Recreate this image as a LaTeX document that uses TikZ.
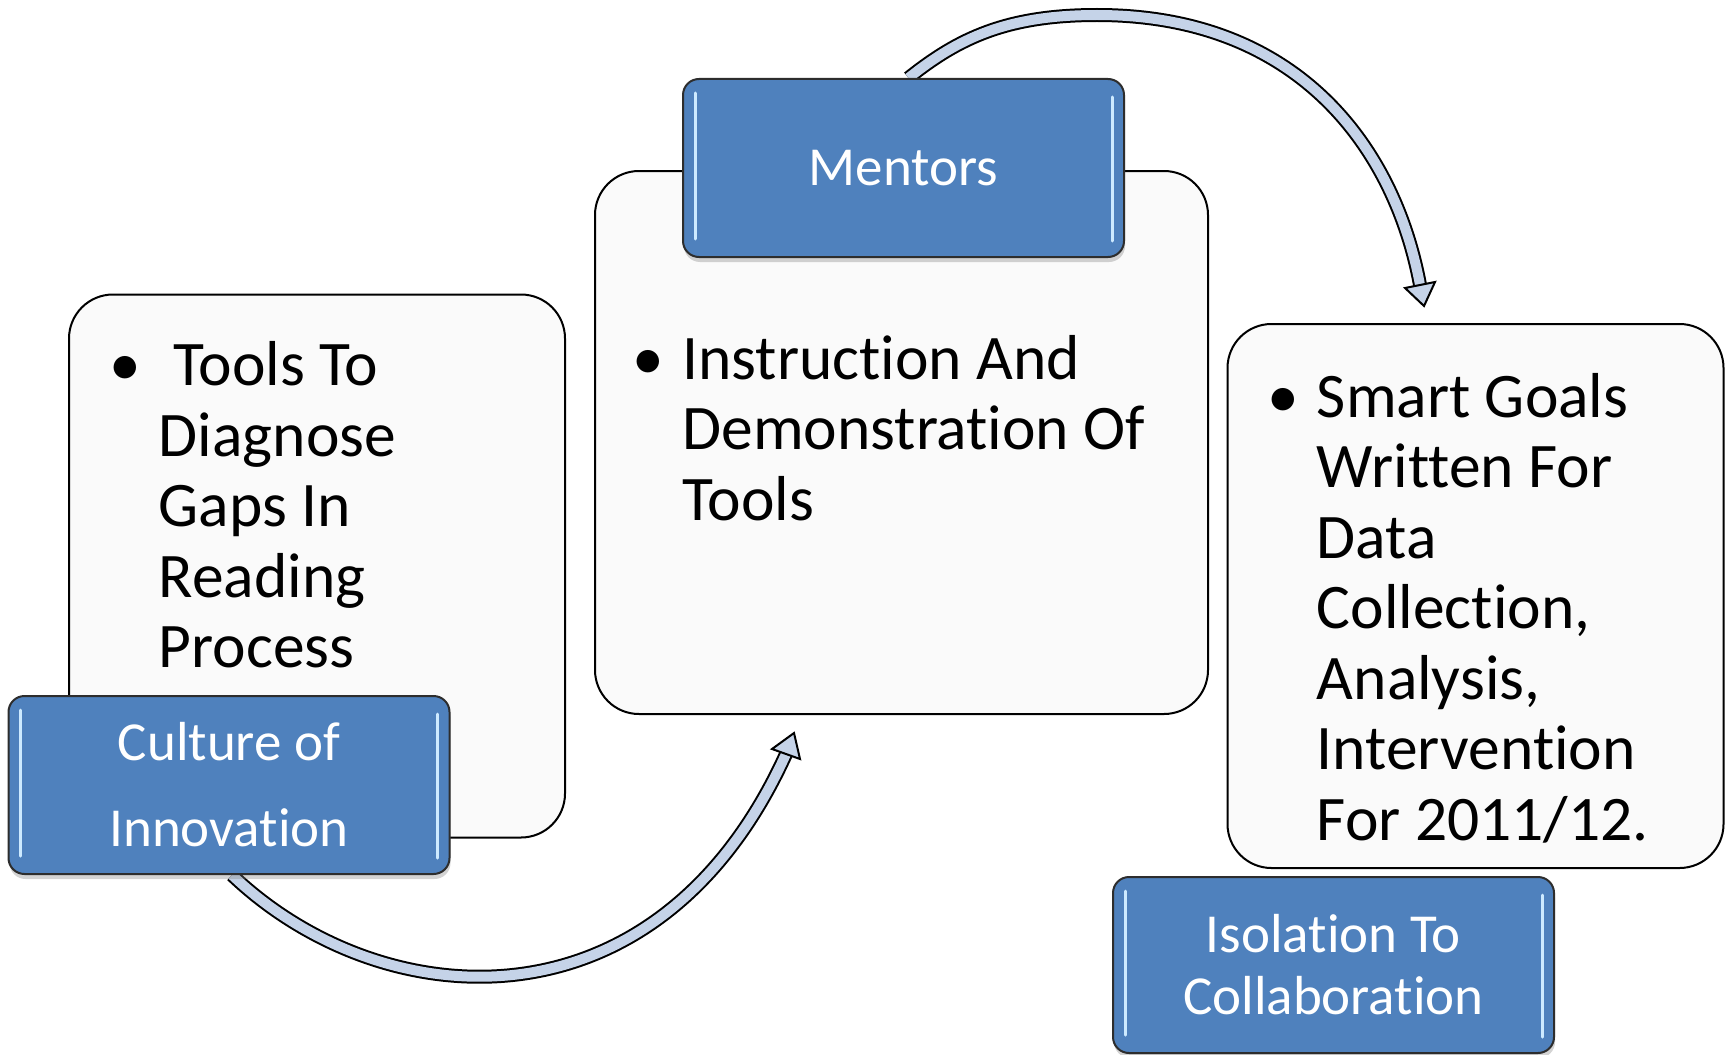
\documentclass[tikz,border=0pt]{standalone}
\definecolor{tabblue}{RGB}{79, 129, 189}
\definecolor{tabedge}{RGB}{45, 45, 45}
\definecolor{glassline}{RGB}{205, 234, 255}
\definecolor{cardfill}{RGB}{250, 250, 250}
\definecolor{cyclefill}{RGB}{197, 211, 232}
\usepackage{fontspec}
\setmainfont{Carlito}[Ligatures={CommonOff, ContextualOff}]
\usepackage{tikz}
\usetikzlibrary{shadows, backgrounds}

\begin{document}
\begin{tikzpicture}[x=0.5pt, y=-0.5pt,
  card/.style={draw=black, line width=1pt, fill=cardfill, rounded corners=22pt,
    minimum width=248pt, minimum height=271.5pt, inner sep=0pt},
  cardtext/.style={anchor=base west, inner sep=0pt, text width=#1, align=flush left,
    font=\fontsize{31.75pt}{35.25pt}\selectfont},
  tabbox/.style={draw=tabedge, line width=1pt, fill=tabblue, rounded corners=8pt,
    minimum width=220.5pt, minimum height=89pt, inner sep=0pt, align=center,
    text=white, font=\fontsize{27.5pt}{31pt}\selectfont,
    drop shadow={shadow xshift=0.5pt, shadow yshift=-2.5pt, opacity=0.35},
    path picture={
      \draw[glassline, line width=1.5pt, line cap=round]
        ([xshift=6pt, yshift=-7pt]path picture bounding box.north west) --
        ([xshift=6pt, yshift=9pt]path picture bounding box.south west);
      \draw[glassline, line width=1.5pt, line cap=round]
        ([xshift=-6pt, yshift=-9pt]path picture bounding box.north east) --
        ([xshift=-6pt, yshift=8pt]path picture bounding box.south east);
    }},
  cyclearrow/.style={draw=cyclefill, line width=5pt,
    preaction={draw=black, line width=7pt}},
  cyclehead/.style={draw=black, line width=1pt, fill=cyclefill, line join=miter},
]
  \useasboundingbox (0, 0) rectangle (1727, 1054);

  \node[card] (diag) at (317, 566) {};
  \node[card, minimum width=306.5pt] (demo) at (901.5, 442.5) {};
  \node[card, minimum height=272pt] (goals) at (1475.5, 596) {};

  \node[cardtext=200pt, xshift=45.25pt, yshift=-46pt] (diagtxt) at (diag.north west) {
    \llap{\textbullet\hspace{9pt}}\ Tools To\\
    Diagnose\\
    Gaps In\\
    Reading\\
    Process
  };
  \node[cardtext=270pt, xshift=44pt, yshift=-104.5pt] (demotxt) at (demo.north west) {
    \llap{\textbullet\hspace{9pt}}Instruction And\\
    Demonstration Of\\
    Tools
  };
  \node[cardtext=220pt, xshift=45pt, yshift=-47pt] (goalstxt) at (goals.north west) {
    \llap{\textbullet\hspace{9pt}}Smart Goals\\
    Written For\\
    Data\\
    Collection,\\
    Analysis,\\
    Intervention\\
    For 2011/12.
  };

  \node[tabbox] (mentors) at (903.5, 168) {Mentors};
  \node[tabbox, font=\fontsize{27.5pt}{43pt}\selectfont] (culture) at (229, 785) {Culture of\\Innovation};
  \node[tabbox, minimum height=88pt] (isolation) at (1333.5, 965) {Isolation To\\Collaboration};

  \coordinate (toppeak) at (1097, 15);
  \coordinate (topend) at (1420, 285);
  \coordinate (botend) at (786, 754);
  \begin{scope}[on background layer]
    \draw[cyclearrow] ([xshift=2.5pt]mentors.north) .. controls +(50, -40) and +(-90, 0) .. (toppeak)
      .. controls +(203, 0) and +(-25, -135) .. (topend);
    \draw[cyclehead] (topend) ++(-15, 3) -- ++(19, 18) -- ++(11, -24) -- cycle;
    \draw[cyclearrow] ([xshift=1.5pt]culture.south) .. controls +(148, 141) and +(-130, 286) .. (botend);
    \draw[cyclehead] (botend) ++(-14, -5) -- ++(22, -16) -- ++(6, 26) -- cycle;
  \end{scope}
\end{tikzpicture}
\end{document}
